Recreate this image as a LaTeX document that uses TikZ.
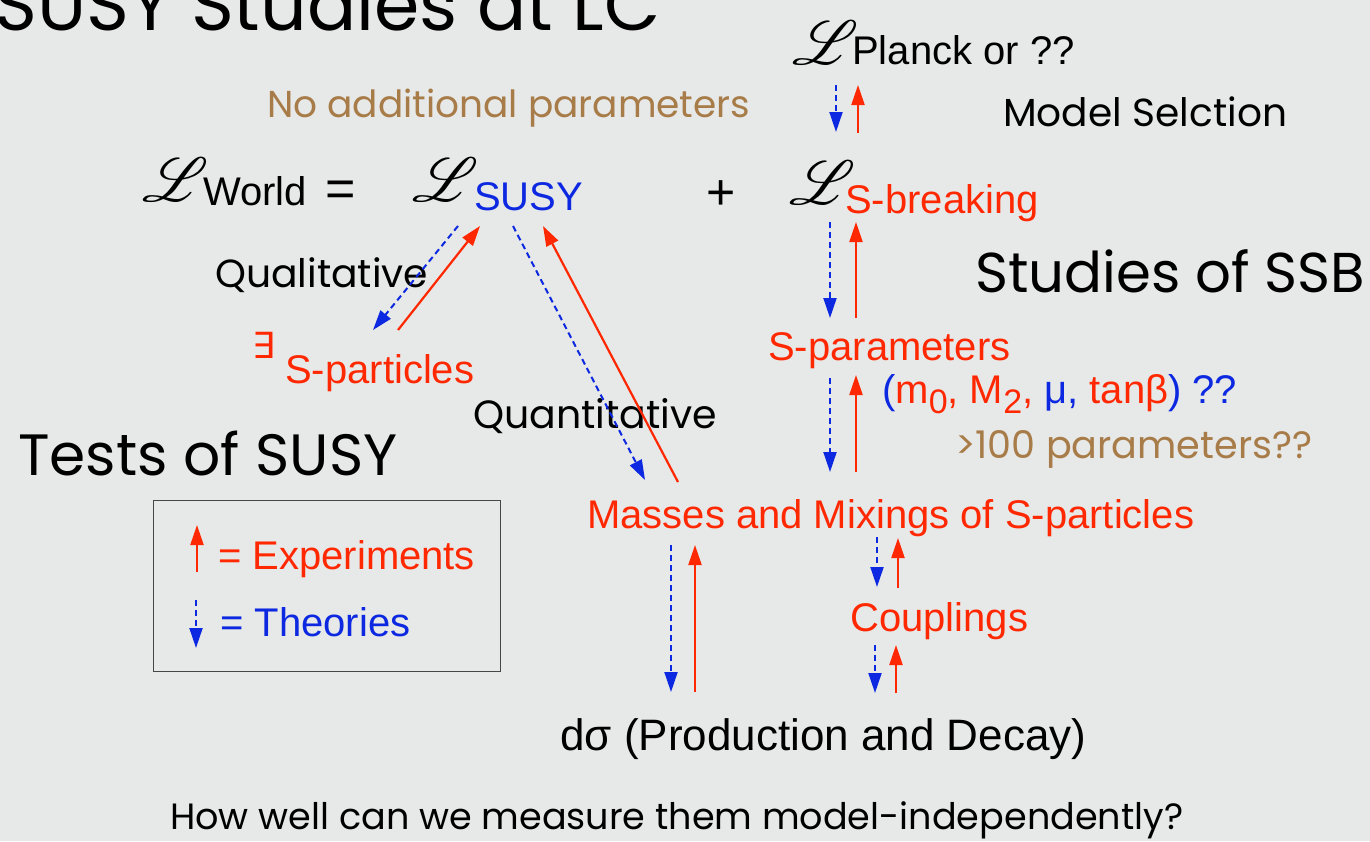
\documentclass[tikz,border=0pt]{standalone}
\usepackage{fontspec}
\usepackage{graphicx}
\usepackage{mathrsfs}
\usetikzlibrary{arrows.meta}
\setmainfont{Liberation Sans}
\newfontfamily\comic{Poppins}
\newfontfamily\dejavu{DejaVu Sans}
\definecolor{bg}{RGB}{231,232,232}
\definecolor{ered}{RGB}{255,40,0}
\definecolor{tblue}{RGB}{12,40,224}
\definecolor{brownish}{RGB}{168,124,72}
\newcommand\cmtext[2]{\resizebox{#1pt}{!}{\comic #2}}
\newcommand\scrL{\scalebox{6.2}{$\mathscr{L}$}}
\tikzset{
 exper/.style={draw=ered, line width=2.2pt, -{Triangle[length=20pt,width=13pt]}},
 theo/.style={draw=tblue, line width=2pt, dash pattern=on 6pt off 4pt, -{Triangle[length=20pt,width=13pt]}},
 helv/.style={inner sep=0pt, anchor=base west, font=\fontsize{40}{44}\selectfont},
 cmc/.style={inner sep=0pt, anchor=base west},
 lag/.style={inner sep=0pt, anchor=base west},
}
\begin{document}
\begin{tikzpicture}[x=1pt,y=-1pt]
\fill[bg] (0,0) rectangle (1370,841);
\useasboundingbox (0,0) rectangle (1370,841);

% comic-style texts
\node[cmc] (title) at (-6,30) {\cmtext{666}{SUSY Studies at LC}};
\node[cmc, text=brownish] (noadd) at (267,117) {\cmtext{483}{No additional parameters}};
\node[cmc] (model) at (1003,126) {\cmtext{284}{Model Selction}};
\node[cmc] (ssb) at (975,292) {\cmtext{390}{Studies of SSB}};
\node[cmc] (qual) at (215,287) {\cmtext{213}{Qualitative}};
\node[cmc] (quant) at (473,428) {\cmtext{244}{Quantitative}};
\node[cmc] (tests) at (18,475) {\cmtext{379}{Tests of SUSY}};
\node[cmc, text=brownish] (hundred) at (955,458) {\cmtext{357}{>100 parameters??}};
\node[cmc] (howwell) at (170,829) {\cmtext{1013}{How well can we measure them model-independently?}};

% Lagrangians
\node[lag] (Lw) at (142,201) {\scrL};
\node[helv] (world) at (203,205) {World};
\node[helv, font=\fontsize{52}{56}\selectfont] (eq) at (325,206) {=};
\node[lag] (Ls) at (412,201) {\scrL};
\node[helv, text=tblue] (susy) at (474,210) {SUSY};
\node[helv, font=\fontsize{50}{54}\selectfont] (plus) at (706,209) {+};
\node[lag] (Lb) at (789,204) {\scrL};
\node[helv, text=ered] (sbreak) at (845,213) {S-breaking};
\node[lag] (Lp) at (792,64) {\scrL};
\node[helv] (planck) at (852,64) {Planck or ??};

% chain texts
\node[helv, text=ered] (spar) at (768,360) {S-parameters};
\node[helv] (params) at (882,403) {\textcolor{tblue}{(}\textcolor{ered}{m\raisebox{-10pt}{\fontsize{34}{38}\selectfont 0}, M\raisebox{-10pt}{\fontsize{34}{38}\selectfont 2}, }\textcolor{tblue}{μ, }\textcolor{ered}{tanβ}\textcolor{tblue}{) ??}};
\node[inner sep=0pt, anchor=base west, text=ered, font=\dejavu\fontsize{36}{40}\selectfont] (exists) at (252,358) {∃};
\node[helv, text=ered] (spart) at (285,383) {S-particles};
\node[helv, text=ered] (masses) at (587,528) {Masses and Mixings of S-particles};
\node[helv, text=ered] (coup) at (850,631) {Couplings};
\node[helv, font=\fontsize{44}{48}\selectfont] (dsigma) at (560,750) {dσ (Production and Decay)};

% legend
\node[draw={rgb,255:red,70;green,70;blue,70}, line width=1.2pt, minimum width=347pt, minimum height=171pt, anchor=north west, inner sep=0pt] (legend) at (153,500) {};
\node[helv, text=ered] (lexp) at (218,569) {= Experiments};
\node[helv, text=tblue] (ltheo) at (220,636) {= Theories};

% arrow end points
\coordinate (b1s) at (836,85);  \coordinate (b1e) at (836,132);
\coordinate (r1s) at (858,133); \coordinate (r1e) at (858,85);
\coordinate (b2s) at (830,222); \coordinate (b2e) at (830,318);
\coordinate (r2s) at (856,318); \coordinate (r2e) at (856,222);
\coordinate (b3s) at (830,378); \coordinate (b3e) at (830,472);
\coordinate (r3s) at (856,472); \coordinate (r3e) at (856,375);
\coordinate (b4s) at (458,226); \coordinate (b4e) at (373,330);
\coordinate (r4s) at (398,330); \coordinate (r4e) at (480,226);
\coordinate (b5s) at (513,226); \coordinate (b5e) at (645,480);
\coordinate (r5s) at (678,482); \coordinate (r5e) at (543,226);
\coordinate (b6s) at (671,545); \coordinate (b6e) at (671,692);
\coordinate (r6s) at (695,692); \coordinate (r6e) at (695,545);
\coordinate (b7s) at (877,537); \coordinate (b7e) at (877,587);
\coordinate (r7s) at (898,588); \coordinate (r7e) at (898,538);
\coordinate (b8s) at (875,645); \coordinate (b8e) at (875,693);
\coordinate (r8s) at (896,693); \coordinate (r8e) at (896,645);
\coordinate (lbs) at (196,600); \coordinate (lbe) at (196,648);
\coordinate (lrs) at (197,572); \coordinate (lre) at (197,525);

\draw[theo] (b1s) -- (b1e);  \draw[exper] (r1s) -- (r1e);
\draw[theo] (b2s) -- (b2e);  \draw[exper] (r2s) -- (r2e);
\draw[theo] (b3s) -- (b3e);  \draw[exper] (r3s) -- (r3e);
\draw[theo] (b4s) -- (b4e);  \draw[exper] (r4s) -- (r4e);
\draw[theo] (b5s) -- (b5e);  \draw[exper] (r5s) -- (r5e);
\draw[theo] (b6s) -- (b6e);  \draw[exper] (r6s) -- (r6e);
\draw[theo] (b7s) -- (b7e);  \draw[exper] (r7s) -- (r7e);
\draw[theo] (b8s) -- (b8e);  \draw[exper] (r8s) -- (r8e);
\draw[theo] (lbs) -- (lbe);  \draw[exper] (lrs) -- (lre);
\end{tikzpicture}
\end{document}
